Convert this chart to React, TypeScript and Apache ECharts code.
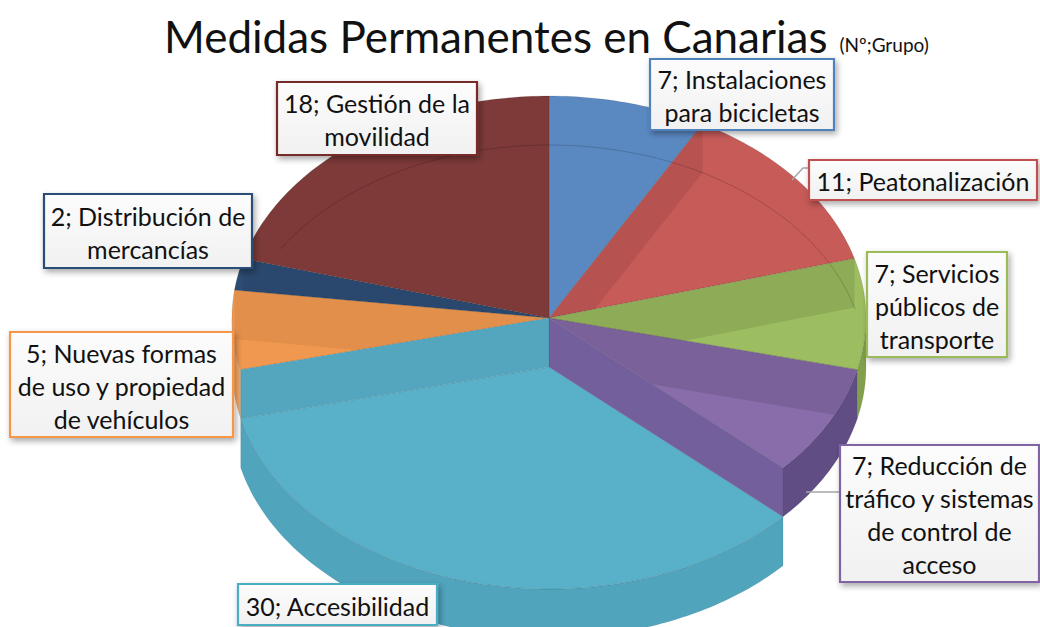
import React, { useEffect, useRef } from "react";
import * as echarts from "echarts";

// ---- data ----
const categories = [
  "Instalaciones para bicicletas",
  "Peatonalización",
  "Servicios públicos de transporte",
  "Reducción de tráfico y sistemas de control de acceso",
  "Accesibilidad",
  "Nuevas formas de uso y propiedad de vehículos",
  "Distribución de mercancías",
  "Gestión de la movilidad",
];
const values = [7, 11, 7, 7, 30, 5, 2, 18];
const titleText = "Medidas Permanentes en Canarias";
const subtitleText = "(Nº;Grupo)";

// ---- styles / layout ----
const faceColors = ["#5a89c2", "#c65b58", "#9dbe60", "#896dab", "#58b0c9", "#f0984f", "#2d4b73", "#7d3a38"];
const wallColors = ["#4a74a8", "#a84a48", "#829f4c", "#5f4d84", "#50a4bc", "#f4a867", "#243f60", "#652e2c"];
const borderColors = ["#4f81bd", "#c0504d", "#9bbb59", "#8064a2", "#4bacc6", "#f79646", "#2c4d75", "#772c2a"];
const bandShade = [0.08, 0.09, 0.1, 0, 0, 0.06, 0.05, 0];
const dropStartBand = "#735f9b";
const dropEndBand = "#53a6be";
const DROP_INDEX = 4;
const labelBoxes = [
  [650, 59, 184, 71],
  [809, 160, 228, 40],
  [867, 252, 140, 105],
  [840, 445, 199, 137],
  [238, 584, 199, 41],
  [10, 332, 223, 105],
  [44, 194, 208, 74],
  [277, 82, 200, 73],
];
const labelLines = [[2, 2], [2], [2, 2, 1], [3, 3, 3, 1], [2], [3, 4, 2], [3, 1], [4, 1]];
const leaderLines = [
  [[792, 180], [803, 168], [809, 168]],
  [[806, 492], [840, 492]],
];

const CX = 549, CY = 318, RX = 317, RY = 222, H = 49;
const FONT = "Lato, 'Open Sans', sans-serif";

const total = values.reduce((a, b) => a + b, 0);
const cum: number[] = [0];
values.forEach((v, i) => cum.push(cum[i] + v));

type P = [number, number];
const pt = (t: number, dy = 0): P => [CX + RX * Math.sin(t), CY - RY * Math.cos(t) + dy];
const arc = (a: number, b: number, dy = 0): P[] => {
  const n = Math.max(2, Math.ceil(((b - a) * 180) / Math.PI));
  const out: P[] = [];
  for (let k = 0; k <= n; k++) out.push(pt(a + ((b - a) * k) / n, dy));
  return out;
};
const wedge = (i: number, dy = 0): P[] => {
  const a = (cum[i] / total) * Math.PI * 2;
  const b = (cum[i + 1] / total) * Math.PI * 2;
  return [[CX, CY + dy] as P, ...arc(a, b, dy)];
};
const intersect = (Pp: P, Q: P, A: P, B: P): P => {
  const d = (Pp[0] - Q[0]) * (A[1] - B[1]) - (Pp[1] - Q[1]) * (A[0] - B[0]);
  const t = ((Pp[0] - A[0]) * (A[1] - B[1]) - (Pp[1] - A[1]) * (A[0] - B[0])) / d;
  return [Pp[0] + t * (Q[0] - Pp[0]), Pp[1] + t * (Q[1] - Pp[1])];
};
const clipPoly = (subject: P[], clip: P[]): P[] => {
  let area = 0;
  for (let k = 0; k < clip.length; k++) {
    const a = clip[k], b = clip[(k + 1) % clip.length];
    area += a[0] * b[1] - b[0] * a[1];
  }
  const sign = area > 0 ? 1 : -1;
  let output = subject;
  for (let k = 0; k < clip.length; k++) {
    const A = clip[k], B = clip[(k + 1) % clip.length];
    const inside = (p: P) => sign * ((B[0] - A[0]) * (p[1] - A[1]) - (B[1] - A[1]) * (p[0] - A[0])) >= 0;
    const input = output;
    output = [];
    for (let j = 0; j < input.length; j++) {
      const p = input[j], q = input[(j + 1) % input.length];
      const pin = inside(p), qin = inside(q);
      if (pin) {
        output.push(p);
        if (!qin) output.push(intersect(p, q, A, B));
      } else if (qin) output.push(intersect(p, q, A, B));
    }
    if (!output.length) break;
  }
  return output;
};

const renderItem = (params: any, api: any) => {
  const i = params.dataIndex;
  const v = api.value(0);
  const t0 = (cum[i] / total) * Math.PI * 2;
  const t1 = ((cum[i] + v) / total) * Math.PI * 2;
  const dropped = i === DROP_INDEX;
  const drop = dropped ? H : 0;
  const zb = dropped ? 10 : 0;
  const children: any[] = [];

  // outer wall (front half only)
  const wa = Math.max(t0, Math.PI / 2), wb = Math.min(t1, (3 * Math.PI) / 2);
  if (wb > wa) {
    const top = arc(wa, wb, drop);
    const bot = arc(wa, wb, drop + H).reverse();
    children.push({
      type: "polygon", z2: zb + 1,
      shape: { points: [...top, ...bot] },
      style: { fill: wallColors[i], stroke: "rgba(0,0,0,0.1)", lineWidth: 0.6 },
    });
  }
  // top face
  children.push({
    type: "polygon", z2: zb + 2,
    shape: { points: [[CX, CY + drop], ...arc(t0, t1, drop)] },
    style: { fill: faceColors[i], stroke: "rgba(0,0,0,0.15)", lineWidth: 0.7 },
  });
  // shaded end-face band seen through the neighbouring face
  if (bandShade[i] > 0) {
    const band: P[] = [[CX, CY], pt(t1), pt(t1, H), [CX, CY + H]];
    const target = Math.sin(t1) > 0 ? (i + 1) % values.length : i;
    const clipped = clipPoly(band, wedge(target));
    if (clipped.length > 2) {
      children.push({
        type: "polygon", z2: 3,
        shape: { points: clipped },
        style: { fill: "#000000", opacity: bandShade[i], stroke: "rgba(0,0,0,0.6)", lineWidth: 0.3 },
      });
    }
  }
  // inner rim (bottom edge seen through) in back region
  const ranges: [number, number][] = [[(302 / 180) * Math.PI, Math.PI * 2], [0, (75 / 180) * Math.PI]];
  if (!dropped) {
    ranges.forEach(([ra, rb]) => {
      const a = Math.max(ra, t0), b = Math.min(rb, t1);
      if (b > a) {
        children.push({
          type: "polyline", z2: 4,
          shape: { points: arc(a, b, H) },
          style: { fill: null, stroke: "rgba(0,0,0,0.22)", lineWidth: 0.8 },
        });
      }
    });
  }
  // radial bands of the lowered slice
  if (dropped) {
    children.push({
      type: "polygon", z2: zb + 3,
      shape: { points: [[CX, CY], pt(t0), pt(t0, H), [CX, CY + H]] },
      style: { fill: dropStartBand, stroke: "rgba(0,0,0,0.12)", lineWidth: 0.6 },
    });
    children.push({
      type: "polygon", z2: zb + 3,
      shape: { points: [[CX, CY], pt(t1), pt(t1, H), [CX, CY + H]] },
      style: { fill: dropEndBand, stroke: "rgba(0,0,0,0.1)", lineWidth: 0.6 },
    });
  }
  return { type: "group", children };
};

const labelText = (i: number) => {
  const words = `${values[i]}; ${categories[i]}`.split(" ");
  const lines: string[] = [];
  let k = 0;
  labelLines[i].forEach((n) => {
    lines.push(words.slice(k, k + n).join(" "));
    k += n;
  });
  return lines.join("\n");
};

const labelElements = categories.flatMap((_, i) => {
  const [x, y, w, h] = labelBoxes[i];
  return [
    {
      type: "rect",
      z: 100,
      shape: { x, y, width: w, height: h },
      style: {
        fill: new echarts.graphic.LinearGradient(0, 0, 0, 1, [
          { offset: 0, color: "#fcfcfc" },
          { offset: 1, color: "#f1f1f1" },
        ]),
        stroke: borderColors[i],
        lineWidth: 2.2,
        shadowBlur: 6,
        shadowOffsetX: 2,
        shadowOffsetY: 3,
        shadowColor: "rgba(0,0,0,0.35)",
      },
    },
    {
      type: "text",
      z: 101,
      x: x + w / 2,
      y: y + h / 2 + 1,
      style: {
        text: labelText(i),
        fill: "#111",
        font: `25px ${FONT}`,
        align: "center",
        verticalAlign: "middle",
        lineHeight: 33,
      },
    },
  ];
});

const leaderElements = leaderLines.map((pts) => ({
  type: "polyline",
  z: 90,
  shape: { points: pts },
  style: { fill: null, stroke: "#a6a6a6", lineWidth: 1.5 },
}));

const option: any = {
  animation: false,
  backgroundColor: "#ffffff",
  title: {
    text: `{a|${titleText}}{b|${subtitleText}}`,
    left: 159,
    top: 3,
    textStyle: {
      fontWeight: "normal",
      rich: {
        a: { fontFamily: FONT, fontSize: 44, fontWeight: "normal", color: "#111", lineHeight: 55 },
        b: { fontFamily: FONT, fontSize: 19, fontWeight: "normal", color: "#111", verticalAlign: "bottom", padding: [0, 0, 9, 12] },
      },
    },
  },
  series: [
    {
      type: "custom",
      coordinateSystem: "none",
      silent: true,
      z: 2,
      data: values.map((v, i) => ({ name: categories[i], value: v })),
      renderItem,
    },
  ],
  graphic: { elements: [...leaderElements, ...labelElements] },
};

export default function App() {
  const ref = useRef<HTMLDivElement>(null);
  useEffect(() => {
    document.body.style.margin = "0";
    const chart = echarts.init(ref.current!, null, { renderer: "svg" });
    chart.setOption(option);
    return () => chart.dispose();
  }, []);
  return <div ref={ref} style={{ width: 1040, height: 627 }} />;
}
